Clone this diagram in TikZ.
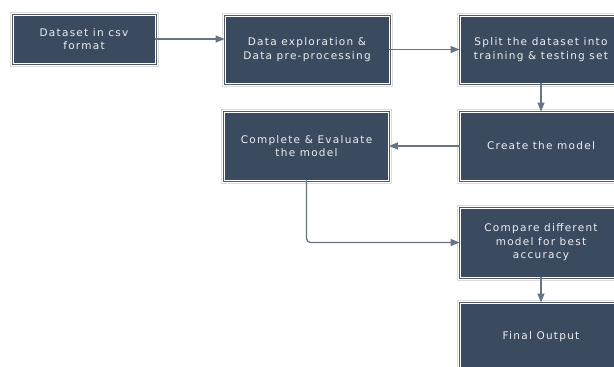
\documentclass[tikz,border=0pt]{standalone}
\usepackage{fontspec}
\setmainfont{DejaVu Sans}[LetterSpace=12]
\usetikzlibrary{arrows.meta}
\definecolor{boxfill}{HTML}{3B4B5F}
\definecolor{boxline}{HTML}{555B63}
\definecolor{halo}{HTML}{DCDCDC}
\definecolor{arrowc}{HTML}{687384}
\definecolor{txt}{HTML}{EDEFF2}
\tikzset{
  flowbox/.style={rectangle, fill=boxfill, draw=white, line width=0.8pt,
    text=txt, align=center, inner sep=2pt,
    font=\fontsize{10.5pt}{13.5pt}\selectfont,
    preaction={draw=halo, line width=7pt, rounded corners=3pt},
    preaction={draw=white, line width=5pt},
    preaction={draw=boxline, line width=3pt}},
  flowarrow/.style={draw=arrowc, line width=1.3pt, -{Triangle[length=9pt,width=7pt]}}
}
\begin{document}
\begin{tikzpicture}[x=1pt,y=-1pt]
\useasboundingbox (0,0) rectangle (614,367);
\clip (0,0) rectangle (614,367);
\node[flowbox, minimum width=142pt, minimum height=48pt] (b1) at (84,39) {Dataset in csv\\format};
\node[flowbox, minimum width=164pt, minimum height=67pt] (b2) at (307,49.5) {Data exploration \&\\Data pre-processing};
\node[flowbox, minimum width=162pt, minimum height=67pt] (b3) at (541,49.5) {Split the dataset into\\training \& testing set};
\node[flowbox, minimum width=162pt, minimum height=68pt] (b4) at (541,146) {Create the model};
\node[flowbox, minimum width=164pt, minimum height=68pt] (b5) at (306.5,146) {Complete \& Evaluate\\the model};
\node[flowbox, minimum width=162pt, minimum height=69pt] (b6) at (541,242.5) {Compare different\\model for best\\accuracy};
\node[flowbox, minimum width=162pt, minimum height=68pt] (b7) at (541,337) {Final Output};
\draw[flowarrow] (b1.east) -- (b1.east -| b2.west);
\draw[flowarrow] (b2.east) -- (b3.west);
\draw[flowarrow] (b3.south) -- (b4.north);
\draw[flowarrow] (b4.west) -- (b5.east);
\draw[flowarrow, rounded corners=4pt] (b5.south) |- (b6.west);
\draw[flowarrow] (b6.south) -- (b7.north);
\end{tikzpicture}
\end{document}
